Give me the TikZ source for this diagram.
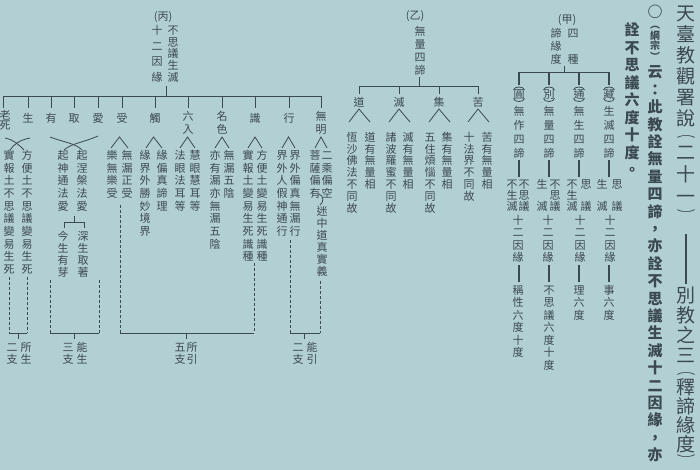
\documentclass[tikz,border=0pt]{standalone}
\usepackage{fontspec}
\setmainfont{Noto Sans CJK TC}
\definecolor{bg}{HTML}{B2D0D3}
\definecolor{ink}{HTML}{3B4950}
\makeatletter
\def\vt@box#1{\hbox to 1em{\hss#1\hss\vrule height .88em depth .12em width 0pt}}
\def\vt@loop#1{\ifx\relax#1\else\vt@box{#1}\expandafter\vt@loop\fi}
\newcommand\vt[2][12.7pt]{\vbox{\baselineskip=#1\relax\lineskiplimit=-\maxdimen\lineskip=0pt\expandafter\vt@loop#2\relax}}
\makeatother
\tikzset{
  col/.style={inner sep=0pt, anchor=north, yshift=5.5pt, text=ink, font=\fontsize{11}{11}\selectfont},
  ttl/.style={inner sep=0pt, anchor=north, yshift=9.5pt, text=ink, font=\fontsize{19}{19}\selectfont},
  tpar/.style={inner sep=0pt, anchor=center, text=ink, font=\fontsize{19}{19}\selectfont},
  bld/.style={inner sep=0pt, anchor=north, yshift=7.5pt, text=ink, font=\fontsize{15}{15}\selectfont\bfseries},
  bsm/.style={inner sep=0pt, anchor=north, yshift=5pt, text=ink, font=\fontsize{10}{10}\selectfont\bfseries},
  hd/.style={inner sep=0pt, text=ink, font=\fontsize{11}{11}\selectfont},
  ln/.style={draw=ink, line width=0.8pt},
  tk/.style={draw=ink, line width=1.3pt},
  dl/.style={draw=ink, line width=0.8pt, dash pattern=on 3pt off 2pt},
}
\begin{document}
\begin{tikzpicture}[x=1pt,y=-1pt]
\fill[bg] (0,0) rectangle (700,470);
\useasboundingbox (0,0) rectangle (700,470);
% ---------- title ----------
\foreach \c/\yy in {天/13,臺/34,教/55,觀/76,署/97,說/118,二/152,十/174,一/196,別/295,教/315,之/335,三/355,釋/387,諦/406,緣/425,度/444}
  \node[ttl] at (686,\yy) {\vt{\c}};
\foreach \c/\yy in {︵/134,︶/215,︵/371,︶/460}
  \node[tpar] at (686,\yy) {\scalebox{1}[0.55]{\vt{\c}}};
\draw[ink, line width=1.6pt] (686,234) -- (686,284);
% ---------- bold text ----------
\node[bld] (circ) at (655,12) {\vt{○}};
\node[bsm] (gz) at (655,25) {\vt[10.5pt]{︵綱宗︶}};
\node[bld] (b1) at (655,72) {\vt[17.4pt]{云：此教詮無量四諦，亦詮不思議生滅十二因緣，亦}};
\node[bld] (b2) at (632,30) {\vt[17.5pt]{詮不思議六度十度。}};
% ---------- (甲) ----------
\node[hd] (jia) at (567,20) {(甲)};
\node[col] (j1) at (556,33) {\vt[13pt]{諦緣度}};
\node[col] (j2) at (573,33) {\vt[26pt]{四種}};
\draw[ln] (564,66) -- (564,72);
\draw[ln] (519,72) -- (609,72);
\foreach \x/\c/\s in {519/圓/無作四諦,549/別/無量四諦,579/通/無生四諦,609/藏/生滅四諦}{
  \draw[tk] (\x,72) -- (\x,85);
  \node[col] at (\x,94) {\vt{\c}};
  \draw[ln] (\x-5.5,90) .. controls (\x-5,86) and (\x+5,86) .. (\x+5.5,90);
  \draw[ln] (\x-5.5,98.5) .. controls (\x-5,102.5) and (\x+5,102.5) .. (\x+5.5,98.5);
  \node[col] at (\x,111) {\vt[14pt]{\s}};
  \draw[tk] (\x,160) -- (\x,177);
  \draw[tk] (\x,265) -- (\x,282);
}
\node[col] at (512,184) {\vt[11pt]{不生滅}};
\node[col] at (524,184) {\vt[11pt]{不思議}};
\node[col] at (542,184) {\vt[22pt]{生滅}};
\node[col] at (555,184) {\vt[11pt]{不思議}};
\node[col] at (572,184) {\vt[11pt]{不生滅}};
\node[col] at (586,184) {\vt[22pt]{思議}};
\node[col] at (602,184) {\vt[22pt]{生滅}};
\node[col] at (617,184) {\vt[22pt]{思議}};
\foreach \x in {518,548,580,610} \node[col] at (\x,220) {\vt[12.5pt]{十二因緣}};
\foreach \x/\s in {518/稱性六度十度,549/不思議六度十度,579/理六度,609/事六度}
  \node[col] at (\x,290) {\vt[12.5pt]{\s}};
% ---------- (乙) ----------
\node[hd] (yi) at (415,16) {(乙)};
\node[col] (y1) at (420,31) {\vt[13pt]{無量四諦}};
\draw[ln] (419,77) -- (419,86);
\draw[ln] (359,86) -- (478,86);
\foreach \x/\c in {359/道,399/滅,439/集,478/苦}{
  \draw[ln] (\x,86) -- (\x,94);
  \node[col] at (\x,102) {\vt{\c}};
  \draw[ln] (\x-10,122) -- (\x,109) -- (\x+11,122);
}
\foreach \x/\s in {352/恆沙佛法不同故,370/道有無量相,391/諸波羅蜜不同故,408/滅有無量相,430/五住煩惱不同故,447/集有無量相,469/十法界不同故,487/苦有無量相}
  \node[col] at (\x,137) {\vt[11.8pt]{\s}};
% ---------- (丙) ----------
\node[hd] (bing) at (163,17) {(丙)};
\node[col] (p1) at (173,30) {\vt[11.75pt]{不思議生滅}};
\node[col] (p2) at (157,30) {\vt[15.67pt]{十二因緣}};
\draw[ln] (166,86) -- (166,96);
\draw[ln] (3,96) -- (321,96);
\foreach \x in {3,28,51,74,98,122,155,188,222,255,289,321} \draw[ln] (\x,96) -- (\x,108);
\node[col] at (5,115) {\vt[10.5pt]{老死}};
\foreach \x/\c in {28/生,51/有,74/取,98/愛,122/受,155/觸,255/識,289/行} \node[col] at (\x,118) {\vt{\c}};
\foreach \x/\c in {188/六入,222/名色,321/無明} \node[col] at (\x,116) {\vt[13pt]{\c}};
% brackets
\draw[ln] (5,138) .. controls (14,140) and (18,144) .. (24,150);
\draw[ln] (30,138) .. controls (20,140) and (14,144) .. (10,150);
\draw[ln] (50,137) .. controls (66,143) and (75,143) .. (82,150);
\draw[ln] (98,136) .. controls (82,143) and (72,143) .. (64,150);
\foreach \a/\l/\r in {119.5/111/128,153.5/146/162,187.5/180/195,222/215/229,255/248/262,288.5/282/295,321/315/327}
  \draw[ln] (\l,148) -- (\a,137) -- (\r,148);
\foreach \x/\s in {9/實報土不思議變易生死,27/方便土不思議變易生死,63/起神通法愛,82/起涅槃法愛,112/樂無樂受,127/無漏正受,145/緣界外勝妙境界,162/緣偏真諦理,180/法眼法耳等,195/慧眼慧耳等,215/亦有漏亦無漏五陰,229/無漏五陰,248/實報土變易生死識種,262/方便土變易生死識種,282/界外人假神通行,295/界外偏真無漏行,315/菩薩偏有,327/二乘偏空}
  \node[col] at (\x,155) {\vt{\s}};
\node[col] at (322,211) {\vt[12pt]{迷中道真實義}};
\draw[ln] (319,194) .. controls (324,196) and (324,202) .. (320,205);
\draw[ln] (74,216) -- (74,222);
\draw[ln] (64,228) -- (64,222) -- (84,222) -- (84,228);
\node[col] at (63,236) {\vt[12pt]{今生有芽}};
\node[col] at (83,236) {\vt[12pt]{深生取著}};
% dashed groups
\draw[dl] (9,277) -- (9,333); \draw[dl] (27,277) -- (27,333);
\draw[ln] (9,333) -- (27,333); \draw[ln] (18,333) -- (18,339);
\draw[dl] (50,280) -- (50,333); \draw[dl] (99,280) -- (99,333);
\draw[ln] (50,333) -- (99,333); \draw[ln] (74,333) -- (74,339);
\draw[dl] (120,205) -- (120,333); \draw[dl] (254,263) -- (254,333);
\draw[ln] (120,333) -- (254,333); \draw[ln] (186,333) -- (186,339);
\draw[dl] (290,240) -- (290,333); \draw[dl] (320,281) -- (320,333);
\draw[ln] (290,333) -- (320,333); \draw[ln] (304,333) -- (304,339);
\foreach \x/\s in {12/二支,26/所生,68/三支,82/能生,180/五支,192/所引,298/二支,312/能引}
  \node[col] at (\x,347) {\vt[12pt]{\s}};
\end{tikzpicture}
\end{document}
